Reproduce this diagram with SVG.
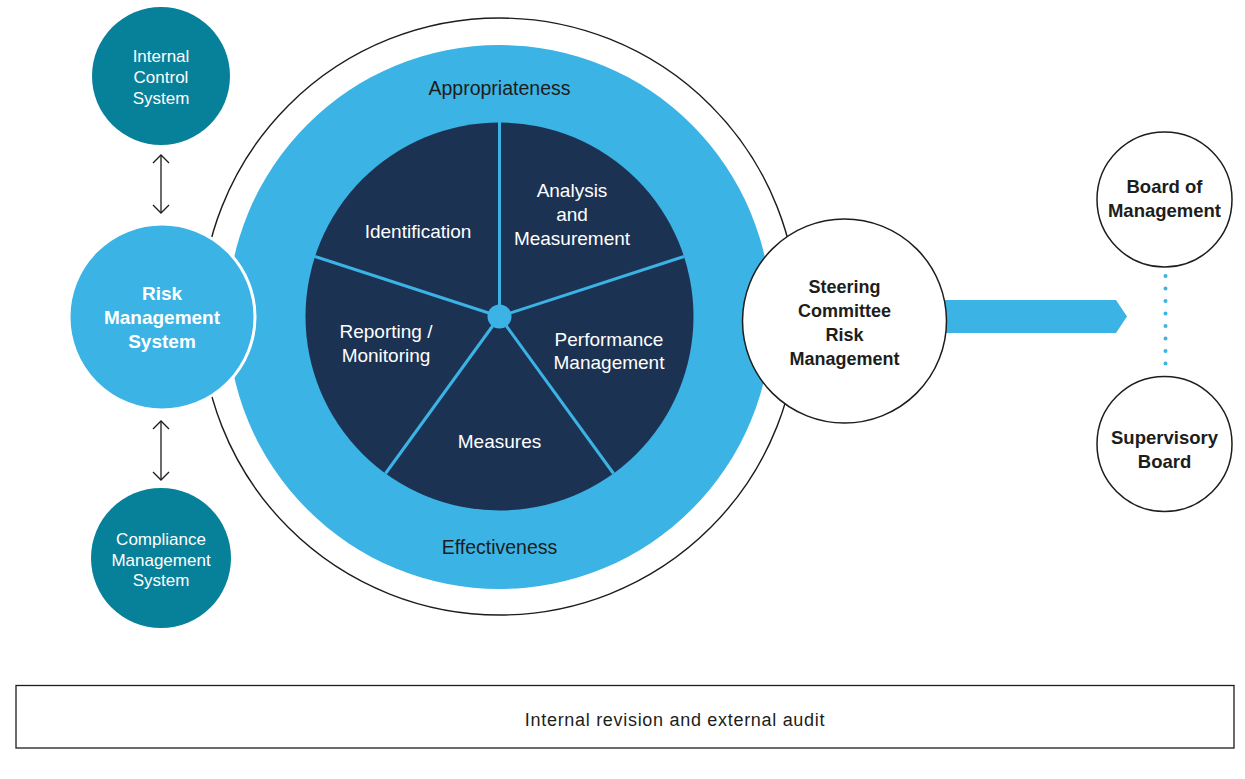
<svg xmlns="http://www.w3.org/2000/svg" width="1245" height="779" viewBox="0 0 1245 779">
<style>
  text { font-family: "Liberation Sans", Arial, sans-serif; text-anchor: middle; }
  .w { fill: #ffffff; }
  .d { fill: #1d1d1b; }
  .pie { font-size: 19px; fill: #ffffff; }
  .ring { font-size: 19.5px; fill: #1d1d1b; }
  .small { font-size: 17px; fill: #ffffff; }
  .bold { font-weight: bold; }
  .conn { stroke: #1d1d1b; stroke-width: 1.3; fill: none; }
</style>
<defs>
  <marker id="chev" markerUnits="userSpaceOnUse" markerWidth="12" markerHeight="20" viewBox="-10 -10 12 20" refX="0" refY="0" orient="auto-start-reverse">
    <path d="M-8,-8 L0,0 L-8,8" fill="none" stroke="#1d1d1b" stroke-width="1.3"/>
  </marker>
</defs>
<rect width="1245" height="779" fill="#ffffff"/>

<g id="outer-ring">
  <circle cx="499.5" cy="316.5" r="298.5" fill="#ffffff" stroke="#1d1d1b" stroke-width="1.4"/>
  <circle cx="499.5" cy="317" r="272" fill="#3bb3e5"/>
  <text class="ring" x="499.5" y="95">Appropriateness</text>
  <text class="ring" x="499.5" y="554">Effectiveness</text>
</g>

<g id="pie">
  <circle cx="499.5" cy="316.5" r="194" fill="#1c3253"/>
  <g stroke="#3bb3e5" stroke-width="3" fill="none">
    <line x1="499.5" y1="316.5" x2="499.5" y2="122"/>
    <line x1="499.5" y1="316.5" x2="684" y2="256.5"/>
    <line x1="499.5" y1="316.5" x2="315" y2="256.5"/>
    <line x1="499.5" y1="316.5" x2="613.5" y2="473.5"/>
    <line x1="499.5" y1="316.5" x2="385.5" y2="473.5"/>
  </g>
  <circle cx="499.5" cy="316.5" r="12" fill="#3bb3e5"/>
  <text class="pie" x="418" y="238">Identification</text>
  <text class="pie" x="572" y="197">Analysis</text>
  <text class="pie" x="572" y="221">and</text>
  <text class="pie" x="572" y="245">Measurement</text>
  <text class="pie" x="386" y="338">Reporting /</text>
  <text class="pie" x="386" y="362">Monitoring</text>
  <text class="pie" x="609" y="346">Performance</text>
  <text class="pie" x="609" y="369">Management</text>
  <text class="pie" x="499.5" y="448">Measures</text>
</g>

<g id="connectors">
  <line class="conn" x1="161" y1="155" x2="161" y2="213" marker-start="url(#chev)" marker-end="url(#chev)"/>
  <line class="conn" x1="161" y1="421" x2="161" y2="480" marker-start="url(#chev)" marker-end="url(#chev)"/>
  <polygon points="935,300 1116,300 1127,316.5 1116,333 935,333" fill="#3bb3e5"/>
  <line x1="1165.5" y1="276" x2="1165.5" y2="372" stroke="#3bb3e5" stroke-width="4" stroke-linecap="round" stroke-dasharray="0 12.5"/>
</g>

<g id="internal-control-system">
  <circle cx="161" cy="76" r="69" fill="#07819a"/>
  <text class="small" x="161" y="62">Internal</text>
  <text class="small" x="161" y="83">Control</text>
  <text class="small" x="161" y="104">System</text>
</g>

<g id="risk-management-system">
  <circle cx="162" cy="317" r="93" fill="#3bb3e5" stroke="#ffffff" stroke-width="3"/>
  <text class="w bold" font-size="19" x="162" y="300">Risk</text>
  <text class="w bold" font-size="19" x="162" y="324">Management</text>
  <text class="w bold" font-size="19" x="162" y="348">System</text>
</g>

<g id="compliance-management-system">
  <circle cx="161" cy="558" r="70" fill="#07819a"/>
  <text class="small" x="161" y="545">Compliance</text>
  <text class="small" x="161" y="566">Management</text>
  <text class="small" x="161" y="586">System</text>
</g>

<g id="steering-committee">
  <circle cx="844.5" cy="321" r="102" fill="#ffffff" stroke="#1d1d1b" stroke-width="1.5"/>
  <text class="d bold" font-size="18" x="844.5" y="293">Steering</text>
  <text class="d bold" font-size="18" x="844.5" y="317">Committee</text>
  <text class="d bold" font-size="18" x="844.5" y="341">Risk</text>
  <text class="d bold" font-size="18" x="844.5" y="365">Management</text>
</g>

<g id="board-of-management">
  <circle cx="1164.5" cy="199.5" r="67.5" fill="#ffffff" stroke="#1d1d1b" stroke-width="1.5"/>
  <text class="d bold" font-size="18.5" x="1164.5" y="193">Board of</text>
  <text class="d bold" font-size="18.5" x="1164.5" y="217">Management</text>
</g>

<g id="supervisory-board">
  <circle cx="1164.5" cy="444" r="67.5" fill="#ffffff" stroke="#1d1d1b" stroke-width="1.5"/>
  <text class="d bold" font-size="18.5" x="1164.5" y="444">Supervisory</text>
  <text class="d bold" font-size="18.5" x="1164.5" y="468">Board</text>
</g>

<g id="audit-box">
  <rect x="16" y="685.5" width="1218" height="62.5" fill="#ffffff" stroke="#1d1d1b" stroke-width="1.3"/>
  <text class="d" font-size="18" letter-spacing="0.7" x="675" y="726">Internal revision and external audit</text>
</g>
</svg>
